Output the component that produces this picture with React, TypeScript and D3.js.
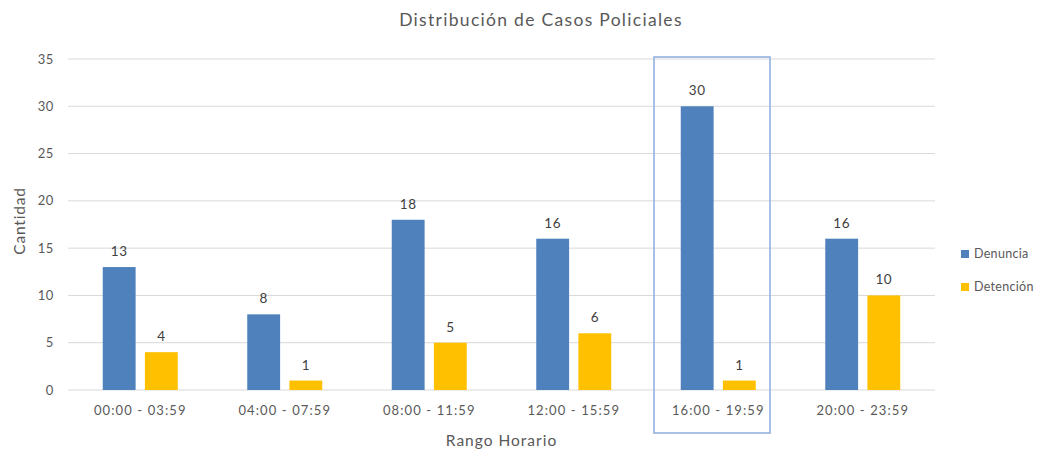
import React from 'react'
import * as d3 from 'd3'

const categories = ['00:00 - 03:59', '04:00 - 07:59', '08:00 - 11:59', '12:00 - 15:59', '16:00 - 19:59', '20:00 - 23:59']
const denuncia = [13, 8, 18, 16, 30, 16]
const detencion = [4, 1, 5, 6, 1, 10]
const seriesNames = ['Denuncia', 'Detención']
const yTicks = [0, 5, 10, 15, 20, 25, 30, 35]
const highlighted = '16:00 - 19:59'

const WIDTH = 1050
const HEIGHT = 451
const margin = { top: 59, right: 115, bottom: 61, left: 68 }
const COLORS = ['#4f81bd', '#ffc000']
const FONT = 'Lato, "Open Sans", sans-serif'

const App = () => {
    const chartWidth = WIDTH - margin.left - margin.right
    const chartHeight = HEIGHT - margin.top - margin.bottom

    const xScale = d3.scaleBand().domain(categories).range([0, chartWidth])
    const band = xScale.bandwidth()
    const xInner = d3
        .scaleBand()
        .domain(seriesNames)
        .range([band / 2 - 37.5, band / 2 + 37.5])
        .paddingInner(0.22)
    const barW = xInner.bandwidth()

    const yScale = d3.scaleLinear().domain([0, 35]).range([chartHeight, 0])

    const series = [denuncia, detencion]
    const hx = xScale(highlighted)

    return (
        <svg width={WIDTH} height={HEIGHT} style={{ position: 'absolute', left: 0, top: 0, background: '#fff' }} fontFamily={FONT}>
            <text x={541} y={26} fontSize={17.5} letterSpacing={1.3} fill='#595959' textAnchor='middle'>
                Distribución de Casos Policiales
            </text>

            <g transform={`translate(${margin.left},${margin.top})`}>
                {/* grid + y ticks */}
                {yTicks.map(t => (
                    <g key={t}>
                        <line x1={0} x2={chartWidth} y1={yScale(t)} y2={yScale(t)} stroke='#d9d9d9' strokeWidth={1} />
                        <text x={-14} y={yScale(t)} dy='0.35em' fontSize={13} letterSpacing={0.6} fill='#595959' textAnchor='end'>
                            {t}
                        </text>
                    </g>
                ))}

                {/* bars */}
                {categories.map((c, i) => (
                    <g key={c} transform={`translate(${xScale(c)},0)`}>
                        {series.map((s, k) => {
                            const x = xInner(seriesNames[k])
                            const y = yScale(s[i])
                            return (
                                <g key={k}>
                                    <rect x={x} y={y} width={barW} height={chartHeight - y} fill={COLORS[k]} />
                                    <text x={x + barW / 2} y={y - 11} fontSize={13.5} letterSpacing={0.5} fill='#404040' textAnchor='middle'>
                                        {s[i]}
                                    </text>
                                </g>
                            )
                        })}
                        <text x={band / 2} y={chartHeight + 25} fontSize={13} letterSpacing={1.1} fill='#595959' textAnchor='middle'>
                            {c}
                        </text>
                    </g>
                ))}

                {/* highlight box */}
                <rect x={hx + 8} y={-2} width={116} height={376} fill='none' stroke='#8eaadb' strokeWidth={1.5} />
            </g>

            <text x={margin.left + chartWidth / 2} y={446} fontSize={15.5} letterSpacing={1} fill='#595959' textAnchor='middle'>
                Rango Horario
            </text>
            <text transform={`translate(25,${221}) rotate(-90)`} fontSize={15.5} letterSpacing={0.8} fill='#595959' textAnchor='middle'>
                Cantidad
            </text>

            {/* legend */}
            {seriesNames.map((n, k) => (
                <g key={n} transform={`translate(961,${254 + k * 33})`}>
                    <rect x={0} y={-4} width={8} height={8} fill={COLORS[k]} />
                    <text x={13} y={0} dy='0.35em' fontSize={12.5} letterSpacing={0.3} fill='#595959'>
                        {n}
                    </text>
                </g>
            ))}
        </svg>
    )
}

export default App
